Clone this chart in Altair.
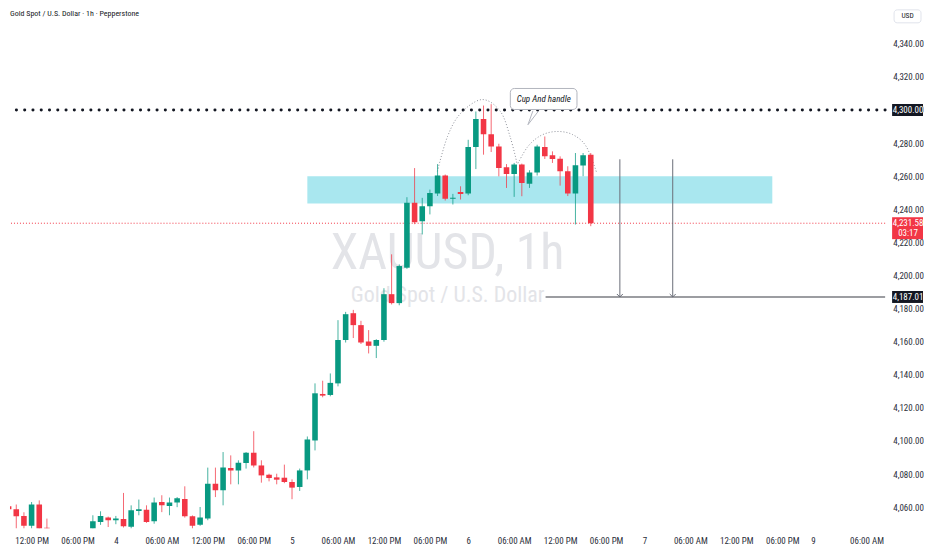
import altair as alt
import pandas as pd

# ---------------- data ----------------
# hourly candle slot index (0 = midnight of day 4), hidden candles below view omitted
slot = [-15, -14, -13, -12, -11, -10, -9, -3, -2, -1, 0, 1, 2, 3, 4, 5, 6, 7, 8, 9,
        10, 11, 12, 13, 14, 15, 16, 17, 18, 19, 20, 21, 22, 23, 24, 25, 26, 27, 28, 29,
        30, 31, 32, 33, 34, 35, 36, 37, 38, 39, 40, 41, 42, 43, 44, 45, 46, 47, 48, 49,
        50, 51, 52, 53, 54, 55, 56, 57, 58, 59, 60, 61, 62]
open_ = [4063.6, 4060.5, 4058.7, 4054.7, 4048.7, 4061.6, 4047.5, 4043.0, 4051.1, 4053.7,
         4052.1, 4052.9, 4048.1, 4057.7, 4058.5, 4051.5, 4063.1, 4060.7, 4062.8, 4064.9,
         4054.5, 4049.3, 4053.1, 4074.2, 4070.2, 4083.6, 4082.2, 4086.7, 4092.9, 4085.2,
         4079.6, 4078.0, 4077.8, 4075.2, 4072.2, 4082.2, 4100.3, 4128.4, 4127.8, 4134.8,
         4161.0, 4177.2, 4170.0, 4160.1, 4157.5, 4161.0, 4188.7, 4183.3, 4204.7, 4243.9,
         4232.8, 4241.9, 4249.5, 4260.4, 4246.3, 4250.5, 4249.5, 4277.6, 4294.5, 4285.4,
         4278.0, 4265.4, 4261.3, 4267.0, 4255.5, 4262.3, 4277.6, 4272.6, 4270.6, 4263.0,
         4249.5, 4266.4, 4273.0]
high = [4064.8, 4061.7, 4061.6, 4056.9, 4063.1, 4064.1, 4053.1, 4055.1, 4057.5, 4054.3,
        4054.7, 4068.6, 4061.1, 4064.6, 4061.1, 4065.8, 4067.2, 4065.8, 4066.1, 4072.6,
        4055.0, 4060.1, 4083.9, 4083.9, 4093.3, 4091.3, 4088.3, 4093.3, 4105.9, 4088.3,
        4080.2, 4080.2, 4085.7, 4076.8, 4083.3, 4102.7, 4134.8, 4136.4, 4140.8, 4173.0,
        4178.0, 4179.2, 4172.6, 4167.0, 4161.5, 4192.3, 4212.8, 4206.7, 4247.3, 4264.9,
        4246.9, 4251.9, 4267.3, 4261.0, 4249.3, 4253.9, 4282.0, 4299.1, 4302.7, 4303.5,
        4279.6, 4267.3, 4268.0, 4267.6, 4263.6, 4279.0, 4284.0, 4275.0, 4272.0, 4266.0,
        4274.0, 4274.0, 4274.0]
low = [4059.5, 4054.1, 4044.0, 4045.0, 4045.0, 4044.0, 4040.0, 4040.0, 4049.3, 4048.0,
       4049.7, 4047.7, 4046.0, 4055.1, 4050.5, 4050.0, 4057.0, 4055.1, 4060.0, 4053.7,
       4046.0, 4048.7, 4052.1, 4066.1, 4061.1, 4073.8, 4073.8, 4083.3, 4084.0, 4074.8,
       4075.6, 4073.8, 4074.5, 4064.8, 4069.8, 4076.8, 4094.3, 4126.4, 4127.0, 4133.0,
       4159.5, 4162.2, 4158.6, 4152.9, 4150.1, 4160.0, 4182.5, 4182.0, 4204.0, 4231.0,
       4224.8, 4236.9, 4248.0, 4245.3, 4242.9, 4245.9, 4248.5, 4264.3, 4273.0, 4274.6,
       4259.9, 4252.9, 4247.5, 4247.9, 4252.9, 4260.4, 4270.4, 4268.0, 4254.3, 4248.0,
       4230.8, 4260.0, 4229.8]
close = [4060.5, 4058.7, 4054.5, 4048.7, 4061.6, 4046.8, 4043.0, 4051.5, 4054.7, 4052.1,
         4053.1, 4048.5, 4058.1, 4058.7, 4051.1, 4062.8, 4061.1, 4062.8, 4065.4, 4054.5,
         4048.7, 4053.7, 4074.2, 4070.2, 4083.9, 4082.2, 4086.9, 4092.9, 4085.2, 4079.2,
         4077.6, 4076.6, 4075.2, 4071.8, 4082.2, 4100.9, 4128.8, 4127.4, 4135.1, 4161.0,
         4176.6, 4170.0, 4159.5, 4157.5, 4161.0, 4188.7, 4183.3, 4205.7, 4243.9, 4232.2,
         4241.9, 4249.9, 4260.4, 4246.3, 4246.9, 4249.3, 4277.6, 4294.5, 4285.4, 4278.0,
         4264.9, 4261.3, 4267.0, 4255.9, 4262.3, 4278.0, 4272.0, 4270.4, 4263.0, 4249.5,
         4266.6, 4272.6, 4231.58]

y_ticks = [4060, 4080, 4100, 4120, 4140, 4160, 4180, 4200, 4220, 4240, 4260, 4280,
           4300, 4320, 4340]
x_tick_pos = [-11, -5, 0, 6, 12, 18, 23, 29, 35, 41, 46, 52, 58, 64, 69, 75, 81, 87, 91, 98]
x_tick_lbl = ["12:00 PM", "06:00 PM", "4", "06:00 AM", "12:00 PM", "06:00 PM", "5",
              "06:00 AM", "12:00 PM", "06:00 PM", "6", "06:00 AM", "12:00 PM", "06:00 PM",
              "7", "06:00 AM", "12:00 PM", "06:00 PM", "9", "06:00 AM"]

resistance = 4300.00
last_price = 4231.58
countdown = "03:17"
target = 4187.01
zone_price = [4243.5, 4260.0]
zone_slot = [25.0, 85.7]
target_slot = [56.1, 100.43]
arrow_slot = [65.8, 72.7]
arrow_top = 4270.2

# cup & handle arcs (slot, price)
arc_id = [1] * 7 + [2] * 7
arc_slot = [41.97, 43.3, 45.0, 47.8, 50.2, 51.5, 52.4,
            52.5, 53.8, 55.5, 57.5, 59.6, 61.4, 62.8]
arc_price = [4262.9, 4284.0, 4297.9, 4306.3, 4299.1, 4283.4, 4267.2,
             4267.8, 4278.0, 4284.6, 4287.0, 4285.2, 4278.0, 4261.7]
callout_text = "Cup And handle"
callout_box = dict(x1=51.5, x2=60.2, y1=4300.3, y2=4313.0)
callout_tail_slot = [54.45, 53.8, 55.2]
callout_tail_price = [4299.5, 4291.1, 4299.5]
callout_center = (55.86, 4306.6)

title = "Gold Spot / U.S. Dollar \u00b7 1h \u00b7 Pepperstone"
wm1 = "XAUUSD, 1h"
wm2 = "Gold Spot / U.S. Dollar"

# ---------------- styling ----------------
FONT = "Liberation Sans Narrow, Roboto Condensed, DejaVu Sans Condensed, Roboto, sans-serif"
UP, DOWN = "#089981", "#f23645"
TXT = "#2a2e39"

W, H = 878, 520
X_SCALE = alt.Scale(domain=[-13.82, 100.43], nice=False, zero=False, padding=0)
Y_SCALE = alt.Scale(domain=[4047.3, 4360.5], nice=False, zero=False, padding=0)

lbl_expr = ("[" + ",".join(f"'{t}'" for t in x_tick_lbl) + "][indexof(["
            + ",".join(str(v) for v in x_tick_pos) + "], datum.value)]")
X_AXIS = alt.Axis(values=x_tick_pos, labelExpr=lbl_expr, grid=False, ticks=False,
                  domain=False, labelPadding=8, labelFontSize=9, labelColor=TXT,
                  labelFont=FONT, labelFlush=False, labelOverlap=False, title=None)
Y_AXIS = alt.Axis(orient="right", values=y_ticks, format=",.2f", grid=False, ticks=False,
                  domain=False, labelPadding=23, labelAlign="center",
                  labelBaseline="middle", labelFontSize=9, labelColor=TXT,
                  labelFont=FONT, labelOverlap=False, title=None)


def X(f):
    return alt.X(f"{f}:Q", scale=X_SCALE, axis=X_AXIS)


def Y(f):
    return alt.Y(f"{f}:Q", scale=Y_SCALE, axis=Y_AXIS)


df = pd.DataFrame(dict(s=slot, o=open_, h=high, l=low, c=close))
df["dir"] = ["up" if c >= o else "down" for o, c in zip(df.o, df.c)]
color = alt.Color("dir:N", scale=alt.Scale(domain=["up", "down"], range=[UP, DOWN]),
                  legend=None)

# watermark
wm = alt.Chart(pd.DataFrame({"t": [wm1]})).mark_text(
    font=FONT, fontSize=50, color="#e3e4e8", align="center", baseline="alphabetic"
).encode(x=alt.value(439), y=alt.value(260), text="t:N")
wm_b = alt.Chart(pd.DataFrame({"t": [wm2]})).mark_text(
    font=FONT, fontSize=22, color="#e3e4e8", align="center", baseline="alphabetic"
).encode(x=alt.value(439), y=alt.value(293), text="t:N")

zone = alt.Chart(pd.DataFrame({"x1": [zone_slot[0]], "x2": [zone_slot[1]],
                               "y1": [zone_price[0]], "y2": [zone_price[1]]})).mark_rect(
    color="#a9e7ef").encode(x=X("x1"), x2="x2", y=Y("y1"), y2="y2")

last_line = alt.Chart(pd.DataFrame({"p": [last_price]})).mark_rule(
    color=DOWN, strokeWidth=1, strokeDash=[1, 2]).encode(y=Y("p"))

res_line = alt.Chart(pd.DataFrame({"p": [resistance]})).mark_rule(
    color="#131722", strokeWidth=3, strokeDash=[0.1, 8.2], strokeCap="round"
).encode(y=Y("p"))

tgt_line = alt.Chart(pd.DataFrame({"x1": [target_slot[0]], "x2": [target_slot[1]],
                                   "p": [target]})).mark_rule(
    color="#3b3d45", strokeWidth=1.2).encode(x=X("x1"), x2="x2", y=Y("p"))

arr_df = pd.DataFrame({"s": arrow_slot, "top": [arrow_top] * 2, "bot": [target] * 2})
arrows = alt.Chart(arr_df).mark_rule(color="#6a6d78", strokeWidth=1).encode(
    x=X("s"), y=Y("top"), y2="bot")
heads = alt.Chart(arr_df).mark_point(
    shape="M-1,-1L0,0L1,-1", size=36, filled=False, color="#6a6d78", strokeWidth=1,
    opacity=1).encode(x=X("s"), y=Y("bot"))

arc_df = pd.DataFrame({"id": arc_id, "s": arc_slot, "p": arc_price,
                       "k": list(range(len(arc_id)))})
arcs = alt.Chart(arc_df).mark_line(
    color="#8f929b", strokeWidth=1, strokeDash=[1, 2], interpolate="cardinal"
).encode(x=X("s"), y=Y("p"), detail="id:N", order="k:Q")

wicks = alt.Chart(df).mark_rule(strokeWidth=1, clip=True, opacity=0.75).encode(
    x=X("s"), y=Y("l"), y2="h", color=color)
bodies = alt.Chart(df).mark_bar(size=5.6, clip=True).encode(
    x=X("s"), y=Y("o"), y2="c", color=color)

tail = alt.Chart(pd.DataFrame({"s": callout_tail_slot, "p": callout_tail_price,
                               "k": [0, 1, 2]})).mark_line(
    color="#b2b5be", strokeWidth=1).encode(x=X("s"), y=Y("p"), order="k:Q")
cbox = alt.Chart(pd.DataFrame({k: [v] for k, v in callout_box.items()})).mark_rect(
    fill="white", stroke="#b2b5be", strokeWidth=1, cornerRadius=4).encode(
    x=X("x1"), x2="x2", y=Y("y1"), y2="y2")
ctext = alt.Chart(pd.DataFrame({"s": [callout_center[0]], "p": [callout_center[1]],
                                "t": [callout_text]})).mark_text(
    font=FONT, fontSize=9, fontStyle="italic", color="#131722", align="center",
    baseline="middle").encode(x=X("s"), y=Y("p"), text="t:N")

# price-scale labels
BX0, BX1, BXC = 885, 916, 901
blk = pd.DataFrame({"p": [resistance, target],
                    "t": [f"{resistance:,.2f}", f"{target:,.2f}"]})
blk_box = alt.Chart(blk).mark_rect(color="#131722", yOffset=-6, y2Offset=6).encode(
    x=alt.value(BX0), x2=alt.value(BX1), y=Y("p"), y2="p")
blk_txt = alt.Chart(blk).mark_text(font=FONT, fontSize=9, color="white",
                                   align="center", baseline="middle").encode(
    x=alt.value(BXC), y=Y("p"), text="t:N")
red = pd.DataFrame({"p": [last_price], "t": [f"{last_price:,.2f}"], "cd": [countdown]})
red_box = alt.Chart(red).mark_rect(color=DOWN, yOffset=-6, y2Offset=16).encode(
    x=alt.value(BX0), x2=alt.value(BX1), y=Y("p"), y2="p")
red_txt = alt.Chart(red).mark_text(font=FONT, fontSize=9, color="white",
                                   align="center", baseline="middle").encode(
    x=alt.value(BXC), y=Y("p"), text="t:N")
red_cd = alt.Chart(red).mark_text(font=FONT, fontSize=9, color="white",
                                  align="center", baseline="middle", dy=10).encode(
    x=alt.value(BXC), y=Y("p"), text="cd:N")

usd = pd.DataFrame({"t": ["USD"]})
usd_box = alt.Chart(usd).mark_rect(fill="white", stroke="#e0e3eb", cornerRadius=3).encode(
    x=alt.value(887), x2=alt.value(914), y=alt.value(0), y2=alt.value(13))
usd_txt = alt.Chart(usd).mark_text(font=FONT, fontSize=7.5, color="#131722",
                                   align="center", baseline="middle").encode(
    x=alt.value(900.5), y=alt.value(6.5), text="t:N")

ttl = alt.Chart(pd.DataFrame({"t": [title]})).mark_text(
    font=FONT, fontSize=8, color="#131722", align="left", baseline="top").encode(
    x=alt.value(0), y=alt.value(0), text="t:N")

chart = alt.layer(
    wm, wm_b, zone, last_line, res_line, tgt_line, arrows, heads, arcs,
    wicks, bodies, tail, cbox, ctext,
    blk_box, blk_txt, red_box, red_txt, red_cd, usd_box, usd_txt, ttl
).properties(
    width=W, height=H, padding={"left": 0, "top": 0, "right": 0, "bottom": 0},
    background="white"
).configure_view(stroke=None)

chart.save("out.html", embed_options={"renderer": "svg", "actions": False})
